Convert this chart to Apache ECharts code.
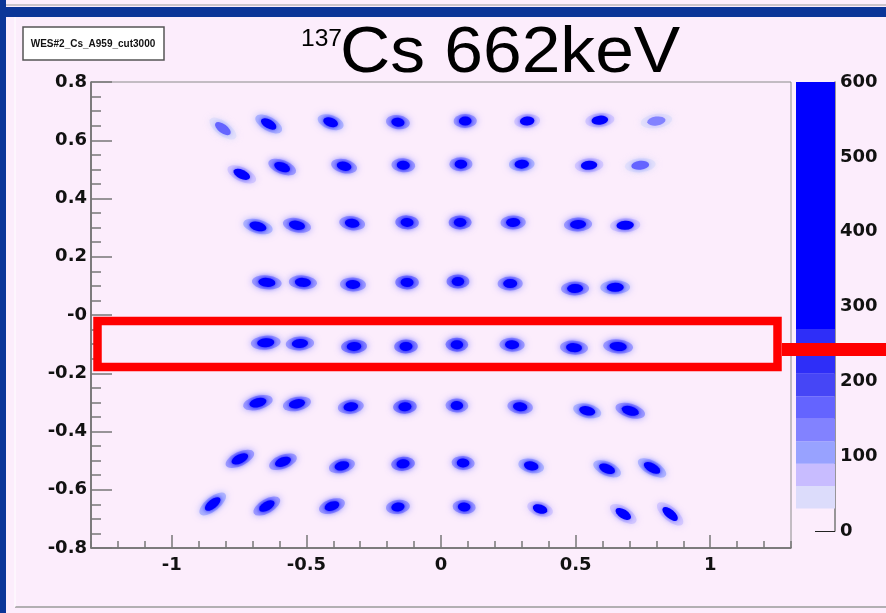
<!DOCTYPE html>
<html>
<head>
<meta charset="utf-8">
<script src="https://cdn.jsdelivr.net/npm/echarts@6/dist/echarts.min.js"></script>
<style>
  html, body { margin: 0; padding: 0; background: #fcedfc; }
  #main { width: 886px; height: 613px; }
</style>
</head>
<body>
<div id="main"></div>
<script>
// spot rows, top to bottom: [x, y, peak counts]
const row1 = [[-0.81, 0.64, 150], [-0.64, 0.656, 420], [-0.41, 0.662, 500], [-0.16, 0.662, 600],
              [0.09, 0.666, 600], [0.32, 0.666, 380], [0.59, 0.669, 330], [0.80, 0.666, 140]];
const row2 = [[-0.74, 0.483, 300], [-0.59, 0.508, 600], [-0.36, 0.511, 600], [-0.14, 0.514, 600],
              [0.074, 0.518, 600], [0.30, 0.518, 450], [0.55, 0.514, 340], [0.74, 0.514, 170]];
const row3 = [[-0.68, 0.304, 500], [-0.535, 0.308, 600], [-0.33, 0.315, 600], [-0.126, 0.318, 700],
              [0.071, 0.318, 700], [0.268, 0.318, 650], [0.509, 0.311, 600], [0.684, 0.308, 400]];
const row4 = [[-0.647, 0.112, 600], [-0.513, 0.112, 600], [-0.327, 0.105, 600], [-0.126, 0.112, 700],
              [0.063, 0.115, 700], [0.257, 0.108, 600], [0.498, 0.091, 550], [0.647, 0.095, 500]];
const row5 = [[-0.651, -0.095, 600], [-0.524, -0.098, 650], [-0.323, -0.108, 700], [-0.130, -0.108, 700],
              [0.059, -0.102, 700], [0.264, -0.102, 650], [0.494, -0.112, 600], [0.658, -0.108, 550]];
const row6 = [[-0.68, -0.301, 600], [-0.535, -0.305, 600], [-0.335, -0.315, 650], [-0.134, -0.315, 700],
              [0.059, -0.311, 650], [0.294, -0.315, 600], [0.543, -0.329, 500], [0.703, -0.329, 550]];
const row7 = [[-0.747, -0.494, 600], [-0.587, -0.504, 650], [-0.368, -0.518, 650], [-0.141, -0.511, 700],
              [0.082, -0.508, 650], [0.335, -0.518, 500], [0.617, -0.528, 450], [0.784, -0.525, 450]];
const row8 = [[-0.848, -0.649, 500], [-0.647, -0.656, 600], [-0.405, -0.656, 650], [-0.160, -0.659, 650],
              [0.086, -0.659, 550], [0.368, -0.666, 350], [0.677, -0.683, 280], [0.851, -0.683, 280]];
const spotRows = [row1, row2, row3, row4, row5, row6, row7, row8];

const xMajorTicks = [-1, -0.5, 0, 0.5, 1];
const yTickLabels = ['-0.8', '-0.6', '-0.4', '-0.2', '-0', '0.2', '0.4', '0.6', '0.8'];
const zLevels = [0, 30, 60, 90, 120, 150, 180, 210, 270, 600];

// ROOT-like palette, one colour per band of zLevels
const palette = ['rgba(0,0,0,0)', '#dcdcfb', '#c8bcff', '#98a2ff', '#8282ff', '#6464ff', '#4646f6', '#2e2ef8', '#0000ff'];

function colorOf(v) {
    for (let i = zLevels.length - 2; i >= 0; i--) {
        if (v >= zLevels[i]) return palette[i];
    }
    return palette[0];
}

// tilt of the spots, stronger towards the corners
function tilt(x, y) {
    const k = (x > 0 && y > 0) ? 15 : 70;
    return Math.max(-40, Math.min(40, k * x * y));
}

const spots = [].concat(...spotRows);

const haloData = spots.map(s => ({
    value: s,
    itemStyle: { color: colorOf(s[2] * 0.22), shadowColor: colorOf(s[2] * 0.22) }
}));
const coreData = spots.map(s => ({
    value: s,
    itemStyle: { color: colorOf(s[2]), shadowColor: colorOf(s[2] * 0.6) }
}));

const bands = [];
for (let i = 1; i < zLevels.length - 1; i++) {
    bands.push([{ yAxis: zLevels[i], itemStyle: { color: palette[i] } }, { yAxis: zLevels[i + 1] }]);
}

const chart = echarts.init(document.getElementById('main'));

const labelFont = { fontFamily: 'DejaVu Sans', fontWeight: 'bold', fontSize: 18, color: '#111' };

chart.setOption({
    backgroundColor: '#fcedfc',
    animation: false,
    grid: [
        { left: 91, right: 95, top: 82, bottom: 65, show: true, borderColor: '#8a8a8a', borderWidth: 1, backgroundColor: 'transparent' },
        { left: 796, width: 39, top: 82, height: 449 }
    ],
    xAxis: [
        {
            gridIndex: 0, type: 'value', min: -1.3, max: 1.3, position: 'bottom',
            axisLine: { onZero: false, lineStyle: { color: '#666', width: 1.5 } },
            axisTick: { customValues: xMajorTicks, inside: true, length: 13, lineStyle: { color: '#777', width: 1.5 } },
            axisLabel: Object.assign({ customValues: xMajorTicks, margin: 8, formatter: v => String(v) }, labelFont),
            splitLine: { show: false }
        },
        {
            gridIndex: 0, type: 'value', min: -1.3, max: 1.3, interval: 0.1, position: 'bottom',
            axisLine: { show: false, onZero: false },
            axisTick: { inside: true, length: 7, lineStyle: { color: '#777', width: 1.5 } },
            axisLabel: { show: false },
            splitLine: { show: false }
        },
        { gridIndex: 1, type: 'value', min: 0, max: 1, show: false }
    ],
    yAxis: [
        {
            gridIndex: 0, type: 'value', min: -0.8, max: 0.8, interval: 0.2,
            axisLine: { onZero: false, lineStyle: { color: '#666', width: 1.5 } },
            axisTick: { inside: true, length: 21, lineStyle: { color: '#777', width: 1.5 } },
            minorTick: { show: true, splitNumber: 4, length: 10, lineStyle: { color: '#777', width: 1.5 } },
            axisLabel: Object.assign({ margin: 4, formatter: (v, i) => yTickLabels[i] }, labelFont),
            splitLine: { show: false }
        },
        {
            gridIndex: 1, type: 'value', min: 0, max: 600, interval: 100, position: 'right',
            axisLine: { show: true, onZero: false, lineStyle: { color: '#777', width: 1.5 } },
            axisTick: { inside: true, length: 20, lineStyle: { color: '#222', width: 1 } },
            axisLabel: Object.assign({ margin: 5 }, labelFont),
            splitLine: { show: false }
        }
    ],
    series: [
        {
            type: 'scatter', xAxisIndex: 0, yAxisIndex: 0,
            data: haloData,
            symbol: 'circle',
            symbolSize: v => [22 + 12 * Math.abs(v[0]), 14],
            symbolRotate: v => tilt(v[0], v[1]),
            itemStyle: { opacity: 0.7, shadowBlur: 7 },
            silent: true
        },
        {
            type: 'scatter', xAxisIndex: 0, yAxisIndex: 0,
            data: coreData,
            symbol: 'circle',
            symbolSize: v => [12 + 8 * Math.abs(v[0]), 9],
            symbolRotate: v => tilt(v[0], v[1]),
            itemStyle: { opacity: 1, shadowBlur: 5 },
            silent: true
        },
        {
            type: 'scatter', xAxisIndex: 2, yAxisIndex: 1,
            data: [],
            markArea: { silent: true, data: bands }
        }
    ],
    graphic: [
        // slide frame
        { type: 'rect', z: 50, shape: { x: 0, y: 7, width: 886, height: 10 }, style: { fill: '#0b3598' } },
        { type: 'rect', z: 50, shape: { x: 0, y: 0, width: 6, height: 613 }, style: { fill: '#0b3598' } },
        { type: 'line', z: 50, shape: { x1: 6, y1: 5, x2: 886, y2: 5 }, style: { stroke: '#9a9a9a', lineWidth: 1 } },
        { type: 'line', z: 50, shape: { x1: 15, y1: 607, x2: 886, y2: 607 }, style: { stroke: '#9a9a9a', lineWidth: 1.5 } },
        { type: 'line', z: 50, shape: { x1: 15, y1: 17, x2: 15, y2: 607 }, style: { stroke: '#ffffff', lineWidth: 1 } },
        // title
        { type: 'text', z: 60, x: 301, y: 28, scaleX: 1.07,
          style: { text: '137', fontFamily: 'Liberation Sans', fontSize: 23, fill: '#000', verticalAlign: 'top' } },
        { type: 'text', z: 60, x: 340, y: 22, scaleX: 1.07,
          style: { text: 'Cs 662keV', fontFamily: 'Liberation Sans', fontSize: 65, fill: '#000', verticalAlign: 'top' } },
        // legend box
        { type: 'rect', z: 60, shape: { x: 23, y: 27, width: 141, height: 33 }, style: { fill: '#ffffff', stroke: '#555', lineWidth: 1.5 } },
        { type: 'text', z: 61, x: 93, y: 44, style: { text: 'WES#2_Cs_A959_cut3000', fontFamily: 'Liberation Sans, Arial, sans-serif', fontWeight: 'bold', fontSize: 10, fill: '#111', align: 'center', verticalAlign: 'middle' } },
        // red annotation
        { type: 'rect', z: 70, shape: { x: 97.5, y: 321, width: 680, height: 46 }, style: { fill: 'none', stroke: '#ff0000', lineWidth: 8.5 } },
        { type: 'rect', z: 70, shape: { x: 782, y: 343, width: 104, height: 13 }, style: { fill: '#ff0000' } }
    ]
});
</script>
</body>
</html>
